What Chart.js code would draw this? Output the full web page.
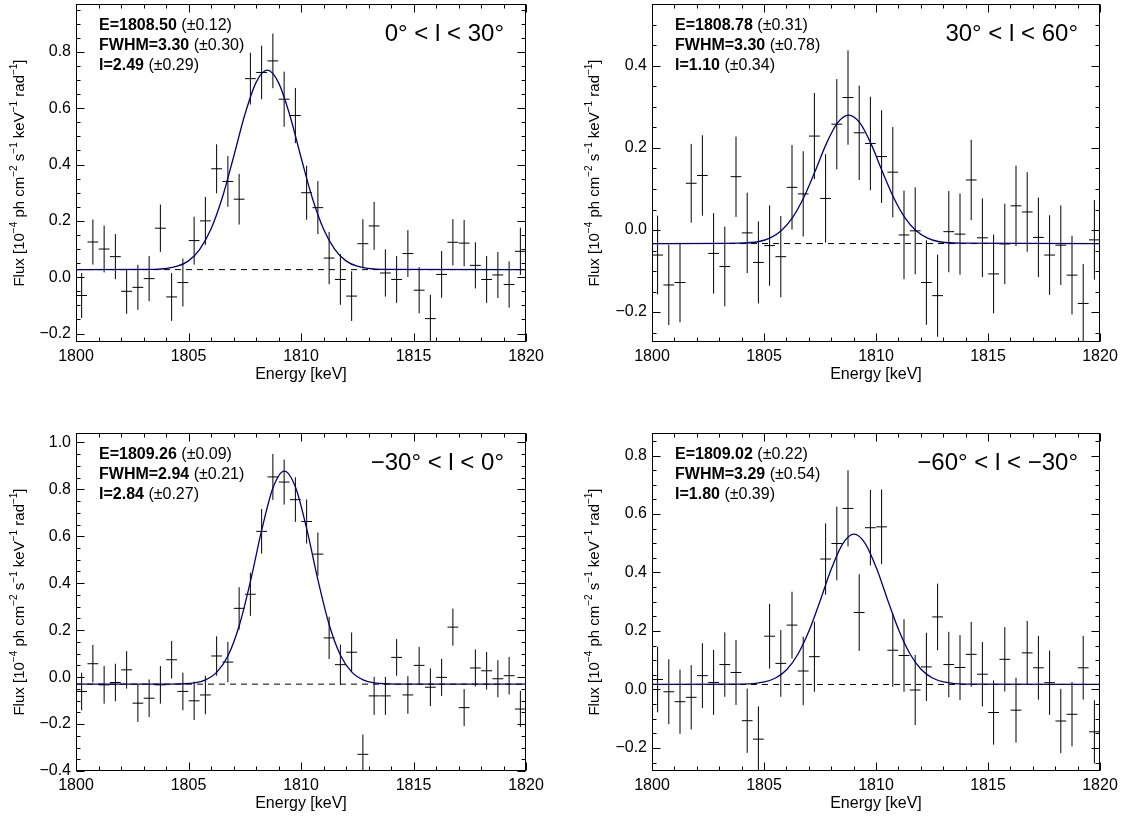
<!DOCTYPE html>
<html>
<head>
<meta charset="utf-8">
<script src="https://cdn.jsdelivr.net/npm/chart.js@4.4.1/dist/chart.umd.min.js"></script>
<style>
  html, body { margin: 0; padding: 0; background: #fff; }
  #fig { position: relative; width: 1125px; height: 819px; overflow: hidden; }
  canvas { position: absolute; }
</style>
</head>
<body>
<div id="fig">
  <canvas id="p1" width="560" height="415" style="left:0px;top:0px"></canvas>
  <canvas id="p2" width="565" height="415" style="left:560px;top:0px"></canvas>
  <canvas id="p3" width="560" height="404" style="left:0px;top:415px"></canvas>
  <canvas id="p4" width="565" height="404" style="left:560px;top:415px"></canvas>
</div>
<script>
// bin centres (keV), same for all four spectra
const energy = [1800.25, 1800.75, 1801.25, 1801.75, 1802.25, 1802.75, 1803.25, 1803.75, 1804.25, 1804.75,
                1805.25, 1805.75, 1806.25, 1806.75, 1807.25, 1807.75, 1808.25, 1808.75, 1809.25, 1809.75,
                1810.25, 1810.75, 1811.25, 1811.75, 1812.25, 1812.75, 1813.25, 1813.75, 1814.25, 1814.75,
                1815.25, 1815.75, 1816.25, 1816.75, 1817.25, 1817.75, 1818.25, 1818.75, 1819.25, 1819.75];
const xTicks = [1800, 1805, 1810, 1815, 1820];

// 0 < l < 30
const flux1 = [-0.065, 0.125, 0.10, 0.073, -0.05, -0.036, -0.005, 0.174, -0.07, -0.019,
               0.13, 0.20, 0.385, 0.34, 0.277, 0.705, 0.727, 0.768, 0.632, 0.574,
               0.30, 0.247, 0.068, -0.008, -0.067, 0.119, 0.182, 0.015, -0.008, 0.084,
               -0.046, -0.147, 0.01, 0.124, 0.121, 0.042, -0.008, 0.008, -0.026, 0.092];
const err1 = [0.08, 0.08, 0.083, 0.08, 0.08, 0.08, 0.08, 0.084, 0.085, 0.085,
              0.085, 0.085, 0.087, 0.09, 0.09, 0.092, 0.095, 0.097, 0.098, 0.098,
              0.096, 0.094, 0.093, 0.09, 0.088, 0.087, 0.085, 0.084, 0.083, 0.083,
              0.082, 0.085, 0.083, 0.082, 0.082, 0.082, 0.083, 0.082, 0.082, 0.084];
const fitX1 = [1800, 1803.5, 1804.5, 1805, 1805.5, 1806, 1806.5, 1807, 1807.5, 1808, 1808.5,
               1809, 1809.5, 1810, 1810.5, 1811, 1811.5, 1812, 1812.5, 1813.5, 1820];
const fitY1 = [0.027, 0.028, 0.039, 0.058, 0.099, 0.171, 0.282, 0.426, 0.576, 0.691, 0.735,
               0.691, 0.576, 0.426, 0.282, 0.171, 0.099, 0.058, 0.039, 0.028, 0.027];
const base1 = 0.027;
const yTicks1 = [-0.2, 0, 0.2, 0.4, 0.6, 0.8];
const text1 = [['E=1808.50', '(±0.12)'], ['FWHM=3.30', '(±0.30)'], ['I=2.49', '(±0.29)']];

// 30 < l < 60
const flux2 = [-0.061, -0.134, -0.128, 0.114, 0.133, -0.057, -0.089, 0.130, -0.007, -0.079,
               -0.038, -0.065, 0.104, 0.088, 0.229, 0.077, 0.258, 0.323, 0.237, 0.211,
               0.179, 0.141, -0.012, -0.002, -0.128, -0.160, -0.004, -0.010, 0.122, -0.019,
               -0.107, -0.034, 0.059, 0.044, -0.018, -0.061, -0.037, -0.110, -0.179, -0.024];
const err2 = [0.096, 0.098, 0.097, 0.096, 0.098, 0.098, 0.097, 0.098, 0.098, 0.1,
              0.098, 0.099, 0.103, 0.104, 0.105, 0.108, 0.11, 0.115, 0.115, 0.114,
              0.113, 0.11, 0.108, 0.106, 0.103, 0.1, 0.099, 0.099, 0.098, 0.096,
              0.096, 0.098, 0.098, 0.097, 0.097, 0.097, 0.097, 0.096, 0.096, 0.097];
const fitX2 = [1800, 1803.78, 1804.78, 1805.28, 1805.78, 1806.28, 1806.78, 1807.28, 1807.78, 1808.28, 1808.78,
               1809.28, 1809.78, 1810.28, 1810.78, 1811.28, 1811.78, 1812.28, 1812.78, 1813.78, 1820];
const fitY2 = [-0.033, -0.032, -0.028, -0.019, -0.001, 0.031, 0.080, 0.143, 0.210, 0.261, 0.280,
               0.261, 0.210, 0.143, 0.080, 0.031, -0.001, -0.019, -0.028, -0.032, -0.033];
const base2 = -0.033;
const yTicks2 = [-0.2, 0, 0.2, 0.4];
const text2 = [['E=1808.78', '(±0.31)'], ['FWHM=3.30', '(±0.78)'], ['I=1.10', '(±0.34)']];

// -30 < l < 0
const flux3 = [-0.061, 0.057, -0.033, -0.023, 0.031, -0.111, -0.09, -0.033, 0.074, -0.061,
               -0.101, -0.076, 0.09, 0.064, 0.293, 0.353, 0.621, 0.853, 0.831, 0.756,
               0.663, 0.524, 0.167, 0.053, 0.106, -0.329, -0.08, -0.08, 0.084, -0.076,
               0.05, -0.043, -0.001, 0.213, -0.13, 0.039, 0.027, -0.007, 0.006, -0.136];
const err3 = [0.08, 0.08, 0.08, 0.08, 0.08, 0.08, 0.08, 0.08, 0.08, 0.08,
              0.082, 0.082, 0.084, 0.086, 0.09, 0.092, 0.095, 0.098, 0.096, 0.095,
              0.094, 0.092, 0.09, 0.086, 0.084, 0.084, 0.081, 0.081, 0.078, 0.08,
              0.079, 0.08, 0.079, 0.079, 0.079, 0.079, 0.08, 0.079, 0.08, 0.077];
const fitX3 = [1800, 1804.26, 1805.26, 1805.76, 1806.26, 1806.76, 1807.26, 1807.76, 1808.26, 1808.76, 1809.26,
               1809.76, 1810.26, 1810.76, 1811.26, 1811.76, 1812.26, 1812.76, 1813.26, 1814.26, 1820];
const fitY3 = [-0.030, -0.030, -0.025, -0.012, 0.021, 0.092, 0.221, 0.411, 0.629, 0.808, 0.878,
               0.808, 0.629, 0.411, 0.221, 0.092, 0.021, -0.012, -0.025, -0.030, -0.030];
const base3 = -0.030;
const yTicks3 = [-0.4, -0.2, 0, 0.2, 0.4, 0.6, 0.8, 1.0];
const text3 = [['E=1809.26', '(±0.09)'], ['FWHM=2.94', '(±0.21)'], ['I=2.84', '(±0.27)']];

// -60 < l < -30
const flux4 = [0.034, -0.008, -0.042, -0.027, 0.047, 0.024, 0.085, 0.058, -0.107, -0.17,
               0.182, 0.089, 0.22, 0.063, 0.112, 0.446, 0.499, 0.619, 0.263, 0.553,
               0.556, 0.134, 0.116, -0.002, 0.077, 0.248, 0.085, 0.075, 0.12, 0.052,
               -0.079, 0.103, -0.071, 0.125, 0.074, 0.023, -0.108, -0.085, 0.074, -0.145];
const err4 = [0.112, 0.111, 0.11, 0.11, 0.111, 0.111, 0.11, 0.111, 0.11, 0.112,
              0.111, 0.114, 0.114, 0.117, 0.12, 0.122, 0.126, 0.13, 0.131, 0.129,
              0.128, 0.125, 0.124, 0.12, 0.117, 0.114, 0.112, 0.111, 0.111, 0.11,
              0.11, 0.11, 0.111, 0.109, 0.109, 0.11, 0.11, 0.11, 0.109, 0.108];
const fitX4 = [1800, 1804.02, 1805.02, 1805.52, 1806.02, 1806.52, 1807.02, 1807.52, 1808.02, 1808.52, 1809.02,
               1809.52, 1810.02, 1810.52, 1811.02, 1811.52, 1812.02, 1812.52, 1813.02, 1814.02, 1820];
const fitY4 = [0.017, 0.018, 0.026, 0.039, 0.068, 0.121, 0.202, 0.306, 0.415, 0.499, 0.531,
               0.499, 0.415, 0.306, 0.202, 0.121, 0.068, 0.039, 0.026, 0.018, 0.017];
const base4 = 0.017;
const yTicks4 = [-0.2, 0, 0.2, 0.4, 0.6, 0.8];
const text4 = [['E=1809.02', '(±0.22)'], ['FWHM=3.29', '(±0.54)'], ['I=1.80', '(±0.39)']];

const FONT = "'Liberation Sans', Arial, Helvetica, sans-serif";
Chart.defaults.font.family = FONT;
Chart.defaults.color = '#000';

// y axis title with superscripts, drawn rotated
const yTitle = [['Flux [10', 0], ['\u22124', 1], [' ph cm', 0], ['\u22122', 1], [' s', 0], ['\u22121', 1],
                [' keV', 0], ['\u22121', 1], [' rad', 0], ['\u22121', 1], [']', 0]];

const decor = {
  id: 'decor',
  afterDraw(chart) {
    const p = chart.options.plugins.decor;
    const { ctx, chartArea: a } = chart;
    const xs = chart.scales.x, ys = chart.scales.y;
    ctx.save();
    ctx.strokeStyle = '#000';
    ctx.lineWidth = 1;
    const L = Math.round(a.left) + 0.5, R = Math.round(a.right) - 0.5;
    const T = Math.round(a.top) + 0.5, B = Math.round(a.bottom) - 0.5;
    ctx.strokeRect(L, T, R - L, B - T);
    ctx.beginPath();
    for (let e = 1800; e <= 1820; e++) {
      const px = Math.round(xs.getPixelForValue(e)) + 0.5;
      const len = e % 5 === 0 ? 8 : 4;
      ctx.moveTo(px, B); ctx.lineTo(px, B - len);
      ctx.moveTo(px, T); ctx.lineTo(px, T + len);
    }
    for (let k = Math.ceil(ys.min / 0.05 - 1e-6); k * 0.05 <= ys.max + 1e-6; k++) {
      const py = Math.round(ys.getPixelForValue(k * 0.05)) + 0.5;
      const len = k % 4 === 0 ? 8 : 4;
      ctx.moveTo(L, py); ctx.lineTo(L + len, py);
      ctx.moveTo(R, py); ctx.lineTo(R - len, py);
    }
    ctx.stroke();

    ctx.fillStyle = '#000';
    ctx.textAlign = 'left';
    ctx.textBaseline = 'alphabetic';
    p.text.forEach((line, i) => {
      const yb = a.top + 26 + i * 20;
      ctx.font = 'bold 16px ' + FONT;
      ctx.fillText(line[0], a.left + 23, yb);
      const w = ctx.measureText(line[0]).width;
      ctx.font = '16px ' + FONT;
      ctx.fillText(' ' + line[1], a.left + 23 + w, yb);
    });
    ctx.font = '24px ' + FONT;
    ctx.textAlign = 'right';
    ctx.fillText(p.region, a.right - 22, a.top + 37);

    ctx.font = '16px ' + FONT;
    ctx.textAlign = 'center';
    ctx.textBaseline = 'middle';
    ctx.fillText('Energy [keV]', (a.left + a.right) / 2, a.bottom + 33);

    // rotated y title
    let total = 0;
    yTitle.forEach(([s, sup]) => {
      ctx.font = (sup ? '10px ' : '15px ') + FONT;
      total += ctx.measureText(s).width;
    });
    ctx.translate(p.titleX, (a.top + a.bottom) / 2);
    ctx.rotate(-Math.PI / 2);
    ctx.textAlign = 'left';
    let cx = -total / 2;
    yTitle.forEach(([s, sup]) => {
      ctx.font = (sup ? '10px ' : '15px ') + FONT;
      ctx.fillText(s, cx, sup ? -6 : 0);
      cx += ctx.measureText(s).width;
    });
    ctx.restore();
  }
};

function errorSets(xs, ys, es, hw) {
  const v = [], h = [];
  xs.forEach((x, i) => {
    v.push({ x: x, y: ys[i] - es[i] }, { x: x, y: ys[i] + es[i] }, { x: x, y: null });
    h.push({ x: x - hw, y: ys[i] }, { x: x + hw, y: ys[i] }, { x: x + hw, y: null });
  });
  return [v, h];
}

function fmtY(v) {
  if (Math.abs(v) < 1e-9) return '0.0';
  return (v < 0 ? '\u2212' : '') + Math.abs(v).toFixed(1);
}

function makeChart(id, c) {
  const cv = document.getElementById(id);
  const W = cv.width, H = cv.height;
  const [vbar, hbar] = errorSets(energy, c.flux, c.err, 0.24);
  return new Chart(cv, {
    type: 'line',
    data: {
      datasets: [
        { data: c.fitX.map((x, i) => ({ x: x, y: c.fitY[i] })), borderColor: '#00007a', borderWidth: 1.3,
          cubicInterpolationMode: 'monotone' },
        { data: [{ x: 1800, y: c.base }, { x: 1820, y: c.base }], borderColor: '#000', borderWidth: 1,
          borderDash: [6, 5] },
        { data: vbar, borderColor: '#000', borderWidth: 1, clip: 0 },
        { data: hbar, borderColor: '#000', borderWidth: 1, clip: 0 }
      ]
    },
    options: {
      responsive: false,
      animation: false,
      devicePixelRatio: 1,
      elements: { point: { radius: 0 } },
      layout: { padding: { left: 0, top: c.area.top, right: W - c.area.right, bottom: 0 } },
      plugins: {
        legend: { display: false },
        tooltip: { enabled: false },
        decor: { text: c.text, region: c.region, titleX: c.titleX }
      },
      scales: {
        x: {
          type: 'linear', min: 1800, max: 1820,
          grid: { display: false, drawTicks: false }, border: { display: false },
          ticks: { autoSkip: false, maxRotation: 0, padding: 5, font: { size: 16 }, callback: v => String(v) },
          afterBuildTicks: s => { s.ticks = xTicks.map(v => ({ value: v })); },
          afterFit: s => { s.height = H - c.area.bottom; s.paddingLeft = 0; s.paddingRight = 0; }
        },
        y: {
          type: 'linear', min: c.yMin, max: c.yMax,
          grid: { display: false, drawTicks: false }, border: { display: false },
          ticks: { autoSkip: false, padding: 5, font: { size: 16 }, callback: v => fmtY(v) },
          afterBuildTicks: s => { s.ticks = c.yTicks.map(v => ({ value: v })); },
          afterFit: s => { s.width = c.area.left; s.paddingTop = 0; s.paddingBottom = 0; }
        }
      }
    },
    plugins: [decor]
  });
}

makeChart('p1', { flux: flux1, err: err1, fitX: fitX1, fitY: fitY1, base: base1, yTicks: yTicks1,
  yMin: -0.23, yMax: 0.97, text: text1, region: '0° < l < 30°', titleX: 20,
  area: { left: 76, right: 526, top: 4, bottom: 342 } });
makeChart('p2', { flux: flux2, err: err2, fitX: fitX2, fitY: fitY2, base: base2, yTicks: yTicks2,
  yMin: -0.273, yMax: 0.551, text: text2, region: '30° < l < 60°', titleX: 35,
  area: { left: 92, right: 540, top: 4, bottom: 342 } });
makeChart('p3', { flux: flux3, err: err3, fitX: fitX3, fitY: fitY3, base: base3, yTicks: yTicks3,
  yMin: -0.40, yMax: 1.04, text: text3, region: '\u221230° < l < 0°', titleX: 20,
  area: { left: 76, right: 526, top: 18, bottom: 356 } });
makeChart('p4', { flux: flux4, err: err4, fitX: fitX4, fitY: fitY4, base: base4, yTicks: yTicks4,
  yMin: -0.279, yMax: 0.877, text: text4, region: '\u221260° < l < \u221230°', titleX: 35,
  area: { left: 92, right: 540, top: 18, bottom: 356 } });
</script>
</body>
</html>
